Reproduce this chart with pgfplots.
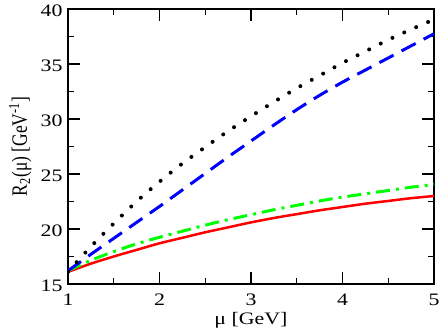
\documentclass[border=0pt]{standalone}
\usepackage{pgfplots}
\pgfplotsset{compat=1.18}
\usepackage{fontspec}
\setmainfont{Liberation Serif}

\pgfplotstableread{
x y
1.00 16.10
1.25 18.40
1.50 20.50
1.75 22.50
2.00 24.30
2.25 25.95
2.50 27.45
2.75 28.90
3.00 30.25
3.25 31.55
3.50 32.80
3.75 33.95
4.00 35.10
4.25 36.15
4.50 37.20
4.75 38.15
5.00 39.05
}\blackdata

\pgfplotstableread{
x y
1.00 16.20
1.25 17.70
1.50 19.15
1.75 20.60
2.00 22.05
2.25 23.55
2.50 25.05
2.75 26.55
3.00 28.00
3.25 29.45
3.50 30.85
3.75 32.15
4.00 33.35
4.25 34.45
4.50 35.55
4.75 36.65
5.00 37.75
}\bluedata

\pgfplotstableread{
x y
1.00 16.20
1.25 17.15
1.50 17.95
1.75 18.65
2.00 19.25
2.25 19.80
2.50 20.35
2.75 20.85
3.00 21.30
3.25 21.75
3.50 22.15
3.75 22.55
4.00 22.90
4.25 23.20
4.50 23.50
4.75 23.80
5.00 24.05
}\greendata

\pgfplotstableread{
x y
1.00 16.10
1.25 16.85
1.50 17.50
1.75 18.10
2.00 18.70
2.25 19.20
2.50 19.70
2.75 20.15
3.00 20.60
3.25 21.00
3.50 21.35
3.75 21.70
4.00 22.00
4.25 22.30
4.50 22.55
4.75 22.80
5.00 23.00
}\reddata

\begin{document}
\begin{tikzpicture}
\begin{axis}[
  at={(0,0)}, anchor=south west,
  scale only axis, width=366bp, height=275bp,
  xmin=1, xmax=5, ymin=15, ymax=40,
  xtick={1,2,3,4,5}, ytick={15,20,25,30,35,40},
  minor x tick num=1, minor y tick num=1,
  tick align=inside, tick pos=both,
  major tick length=12bp, minor tick length=6bp,
  axis line style={line width=1.5bp},
  every tick/.style={black, line width=1.2bp},
  /pgf/number format/assume math mode=true,
  tick label style={font=\fontsize{17.5bp}{20bp}\selectfont, inner sep=0pt},
  xticklabel={\scalebox{1.25}[1]{\pgfmathprintnumber{\tick}}},
  yticklabel={\scalebox{1.25}[1]{\pgfmathprintnumber{\tick}}},
  xticklabel style={anchor=base, yshift=-21bp},
  yticklabel style={anchor=base east, xshift=-5.3bp, yshift=-7.7bp},
  label style={font=\fontsize{17.5bp}{20bp}\selectfont, inner sep=0pt},
  xlabel={\scalebox{1.25}[1]{μ [GeV]}},
  ylabel={\scalebox{1}[1.25]{R\textsubscript{2}(μ) [GeV\textsuperscript{-1}]}},
  xlabel style={at={([yshift=-40bp]axis description cs:0.5,0)}, anchor=base},
  ylabel style={at={([xshift=-41bp]axis description cs:0,0.5)}, anchor=base, rotate=0},
]
\addplot[red, line width=2.5bp, smooth] table {\reddata};
\addplot[color={rgb,255:red,0;green,255;blue,0}, line width=3bp, smooth, dash pattern=on 14bp off 6bp on 3bp off 6bp] table {\greendata};
\addplot[blue, line width=3bp, smooth, dash pattern=on 16bp off 9bp] table {\bluedata};
\addplot[black, line width=4bp, smooth, line cap=round, dash pattern=on 0bp off 13bp] table {\blackdata};
\end{axis}
\pgfresetboundingbox
\path (-68bp,-49bp) rectangle (373bp,284bp);
\end{tikzpicture}
\end{document}
